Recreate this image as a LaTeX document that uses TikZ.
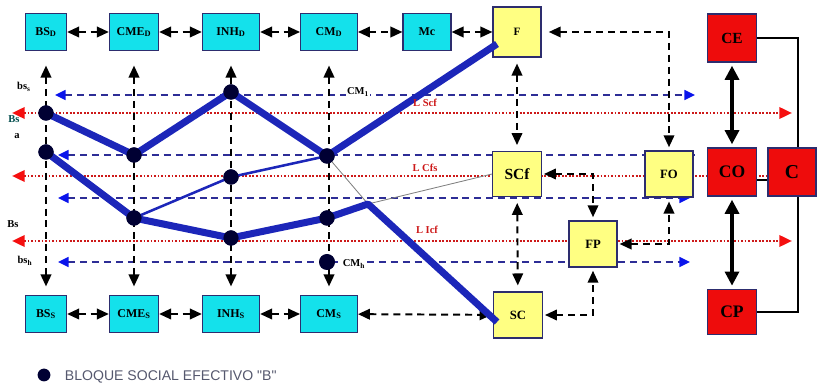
\documentclass[tikz,border=0pt]{standalone}
\usepackage{fontspec}
\setmainfont{Liberation Serif}
\newfontfamily\keyfont{Liberation Sans}
\usetikzlibrary{arrows.meta, calc}

\definecolor{boxcyan}{RGB}{20,225,235}
\definecolor{boxyellow}{RGB}{255,255,130}
\definecolor{boxred}{RGB}{238,12,12}
\definecolor{boxline}{RGB}{45,45,110}
\definecolor{blockblue}{RGB}{28,38,185}
\definecolor{dashblue}{RGB}{45,45,150}
\definecolor{tipblue}{RGB}{10,20,235}
\definecolor{dotred}{RGB}{205,25,25}
\definecolor{tipred}{RGB}{245,15,15}
\definecolor{keygray}{RGB}{85,88,110}

\tikzset{
  bluehead/.tip={Triangle[length=7.5pt,width=7pt,color=tipblue]},
  redhead/.tip={Triangle[length=9pt,width=8pt,color=tipred]},
  blackhead/.tip={Triangle[length=8.5pt,width=7.5pt]},
}

\begin{document}
\begin{tikzpicture}[x=0.025cm, y=-0.025cm,
  box/.style={draw=boxline, line width=0.8pt, inner sep=1pt, font=\fontsize{8.5}{9}\selectfont\bfseries},
  cbox/.style={box, fill=boxcyan, minimum height=0.93cm},
  ybox/.style={box, fill=boxyellow, minimum width=1.2cm, minimum height=1.15cm},
  rbox/.style={box, fill=boxred, minimum width=1.22cm, minimum height=1.2cm, font=\fontsize{12.5}{13}\selectfont\bfseries},
  link/.style={dash pattern=on 5pt off 3.5pt, line width=1.4pt, blackhead-blackhead},
  strong/.style={line width=2.2pt, {Triangle[length=10pt,width=10pt]}-{Triangle[length=10pt,width=10pt]}},
  bline/.style={dashblue, line width=1.5pt, dash pattern=on 5pt off 3.5pt},
  rline/.style={dotred, line width=1.9pt, dash pattern=on 1.3pt off 1.2pt},
  block/.style={blockblue, line width=5pt, line join=round},
  dot/.style={circle, fill=black!80!blue, inner sep=0pt, minimum size=0.38cm},
  tag/.style={font=\fontsize{7.5}{8}\selectfont\bfseries},
  ltag/.style={font=\fontsize{7.5}{8}\selectfont\bfseries, text=dotred},
  ]
  \useasboundingbox (0,0) rectangle (817,386);

  % lines of the blocks (red) and of the social groups (blue)
  \draw[rline, redhead-redhead] (12,113) coordinate (ra) -- (792,113) coordinate (rb);
  \draw[rline, redhead-] (12,176) coordinate (rc) -- (770,176) coordinate (rd);
  \draw[rline, redhead-redhead] (12,241) coordinate (re) -- (792,241) coordinate (rf);
  \draw[bline, bluehead-bluehead] (55,95) coordinate (ba) -- (695,95) coordinate (bb);
  \draw[bline, bluehead-] (58,155) coordinate (bc) -- (695,155) coordinate (bd);
  \draw[bline, bluehead-bluehead] (58,198) coordinate (be) -- (690,198) coordinate (bf);
  \draw[bline, bluehead-bluehead] (58,262) coordinate (bg) -- (690,262) coordinate (bh);

  % top and bottom rows
  \node[cbox, minimum width=1.03cm] (bsd) at (46,32) {BS\textsubscript{D}};
  \node[cbox, minimum width=1.23cm] (cmed) at (134,32) {CME\textsubscript{D}};
  \node[cbox, minimum width=1.43cm] (inhd) at (231,32) {INH\textsubscript{D}};
  \node[cbox, minimum width=1.42cm] (cmd) at (329,32) {CM\textsubscript{D}};
  \node[cbox, minimum width=1.2cm] (mc) at (427,32) {Mc};
  \node[cbox, minimum width=1.03cm] (bss) at (46,314) {BS\textsubscript{S}};
  \node[cbox, minimum width=1.23cm] (cmes) at (134,314) {CME\textsubscript{S}};
  \node[cbox, minimum width=1.43cm] (inhs) at (231,314) {INH\textsubscript{S}};
  \node[cbox, minimum width=1.42cm] (cms) at (329,314) {CM\textsubscript{S}};

  \node[ybox, minimum height=1.25cm, font=\fontsize{8}{9}\selectfont\bfseries] (f) at (517,32) {F};
  \node[ybox, minimum width=1.22cm, minimum height=1.12cm, font=\fontsize{11}{12}\selectfont\bfseries] (scf) at (517,174) {SCf};
  \node[ybox, font=\fontsize{9}{10}\selectfont\bfseries] (fp) at (593,244) {FP};
  \node[ybox, font=\fontsize{9}{10}\selectfont\bfseries] (fo) at (669,174) {FO};
  \node[ybox, minimum width=1.22cm, font=\fontsize{9}{10}\selectfont\bfseries] (sc) at (518,315) {SC};

  \node[rbox, font=\fontsize{11}{12}\selectfont\bfseries] (ce) at (732,38) {CE};
  \node[rbox] (co) at (732,172) {CO};
  \node[rbox, minimum width=1.2cm, font=\fontsize{14}{15}\selectfont\bfseries] (c) at (792,172) {C};
  \node[rbox, minimum height=1.13cm] (cp) at (732,312) {CP};

  % dashed links between boxes
  \draw[link] (bsd) -- (cmed);
  \draw[link] (cmed) -- (inhd);
  \draw[link] (inhd) -- (cmd);
  \draw[link] (cmd) -- (mc);
  \draw[link] (mc) -- (f);
  \draw[link] (bss) -- (cmes);
  \draw[link] (cmes) -- (inhs);
  \draw[link] (inhs) -- (cms);
  \draw[link, shorten >=1pt] (cms) -- (sc);
  \foreach \a/\b in {bsd/bss, cmed/cmes, inhd/inhs, cmd/cms}
    \draw[link, shorten <=0.36cm, shorten >=0.21cm] (\a) -- (\b);
  \draw[link, shorten <=0.15cm, shorten >=0.15cm] (f) -- (scf);
  \draw[link, shorten <=0.15cm, shorten >=0.15cm] (scf) -- (sc);
  \draw[link, shorten <=0.18cm, shorten >=0.08cm] (f.east) -| (fo.north);
  \draw[link, shorten <=0.05cm, shorten >=0.08cm] (scf.east) -| (fp.north);
  \draw[link, shorten <=0.05cm, shorten >=0.1cm] (fp.east) -| (fo.south);
  \draw[link, shorten <=0.05cm, shorten >=0.08cm] (sc.east) -| (fp.south);

  % class boxes
  \draw[strong, shorten <=0.08cm, shorten >=0.08cm] (ce) -- (co);
  \draw[strong, shorten <=0.08cm, shorten >=0.08cm] (co) -- (cp);
  \draw[line width=1.4pt] (ce.east) -| ([xshift=0.16cm]c.north);
  \draw[line width=1.4pt] (cp.east) -| ([xshift=0.16cm]c.south);
  \draw[line width=1.4pt] ([yshift=-0.2cm]co.east) -- ([yshift=-0.2cm]c.west);

  % social groups
  \node[dot] (d1) at (46,113) {};
  \node[dot] (d2) at (46,152) {};
  \node[dot] (d3) at (134,155) {};
  \node[dot] (d4) at (134,218) {};
  \node[dot] (d5) at (231,92) {};
  \node[dot] (d6) at (231,177) {};
  \node[dot] (d7) at (231,238) {};
  \node[dot] (d8) at (327,156) {};
  \node[dot] (d9) at (327,218) {};
  \node[dot, minimum size=0.4cm] (d10) at (327,262) {};
  \coordinate (fend) at (497,44);
  \coordinate (kink) at (368,204);
  \coordinate (scend) at (497,322);

  \draw[gray, line width=0.6pt] (d8.center) -- (kink) -- (scf.west);
  \draw[blockblue, line width=1.8pt] (d4.center) -- (d6.center) -- (d8.center);
  \draw[block] (d1.center) -- (d3.center) -- (d5.center) -- (d8.center) -- (fend);
  \draw[block] (d2.center) -- (d4.center) -- (d7.center) -- (d9.center) -- (kink) -- (scend);
  \foreach \d in {d1,d2,d3,d4,d5,d6,d7,d8,d9,d10}
    \node[dot] at (\d) {};

  % labels
  \node[tag] (bsup) at (24,87) {bs\textsubscript{s}};
  \node[tag, text=teal!60!black] (bsa) at (14,119) {Bs};
  \node[tag] (bsasub) at (17,136) {a};
  \node[tag] (bsb) at (13,224) {Bs};
  \node[tag] (bslow) at (25,261) {bs\textsubscript{h}};
  \node[tag, fill=white, inner sep=1pt] (cmone) at (358,92) {CM\textsubscript{1}};
  \node[tag, fill=white, inner sep=1pt] (cmh) at (354,264) {CM\textsubscript{h}};
  \node[ltag] (lscf) at (425,103) {L Scf};
  \node[ltag] (lcfs) at (425,168) {L Cfs};
  \node[ltag] (licf) at (427,230) {L Icf};

  % key
  \node[dot, minimum size=0.32cm] (key) at (44,375) {};
  \node[anchor=west, text=keygray, font=\keyfont\fontsize{10}{12}\selectfont] (keytext) at (60,377) {BLOQUE SOCIAL EFECTIVO "B"};
\end{tikzpicture}
\end{document}
